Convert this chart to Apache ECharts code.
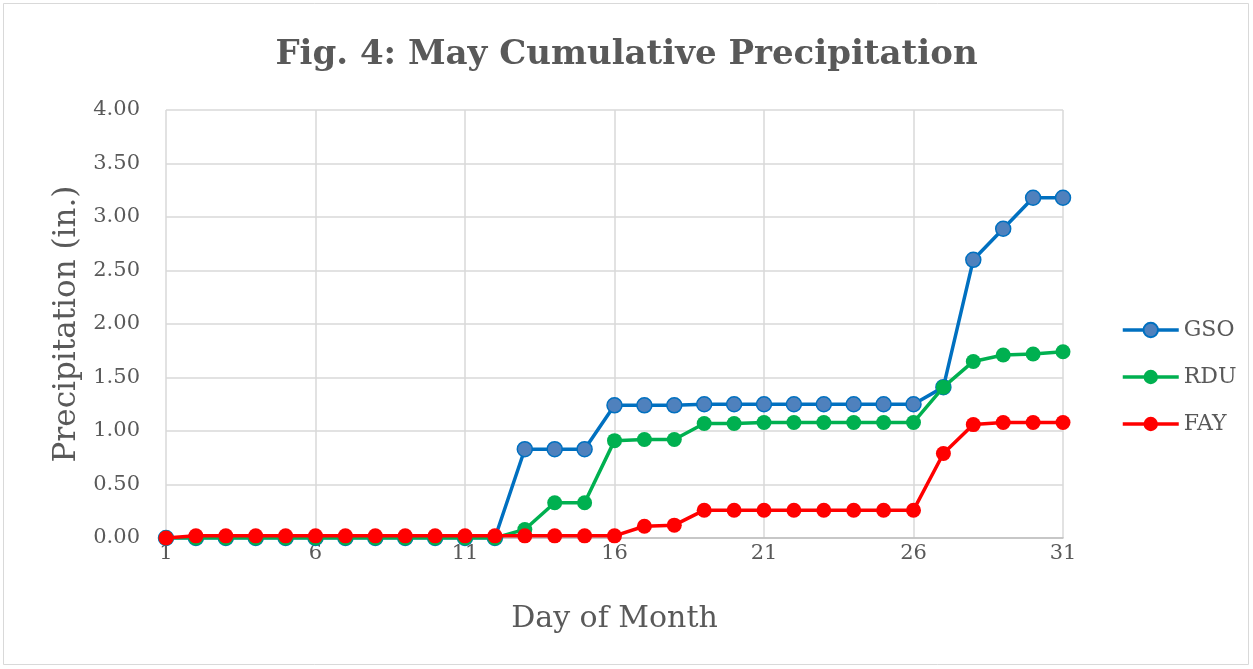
<!DOCTYPE html>
<html>
<head>
<meta charset="utf-8">
<script src="https://cdn.jsdelivr.net/npm/echarts@6/dist/echarts.min.js"></script>
<style>
html,body{margin:0;padding:0;background:#fff;}
#c{width:1253px;height:669px;}
</style>
</head>
<body>
<div id="c"></div>
<script>
var days = [];
for (var d = 1; d <= 31; d++) days.push(String(d));
var GSO = [0,0,0,0,0,0,0,0,0,0,0,0,0.83,0.83,0.83,1.24,1.24,1.24,1.25,1.25,1.25,1.25,1.25,1.25,1.25,1.25,1.41,2.60,2.89,3.18,3.18];
var RDU = [0,0,0,0,0,0,0,0,0,0,0,0,0.08,0.33,0.33,0.91,0.92,0.92,1.07,1.07,1.08,1.08,1.08,1.08,1.08,1.08,1.41,1.65,1.71,1.72,1.74];
var FAY = [0,0.02,0.02,0.02,0.02,0.02,0.02,0.02,0.02,0.02,0.02,0.02,0.02,0.02,0.02,0.02,0.11,0.12,0.26,0.26,0.26,0.26,0.26,0.26,0.26,0.26,0.79,1.06,1.08,1.08,1.08];
var seriesNames = ['GSO','RDU','FAY'];
var lineColors = ['#0070C0','#00B050','#FF0000'];
var markerFills = ['#4F81BD','#00B050','#FF0000'];
var titleText = 'Fig. 4: May Cumulative Precipitation';
var xName = 'Day of Month';
var yName = 'Precipitation (in.)';

var FONT = '"DejaVu Serif", serif';
var TXT = '#595959';
var chart = echarts.init(document.getElementById('c'), null, {renderer:'canvas'});
var dataSets = [GSO, RDU, FAY];
var series = dataSets.map(function(arr, i){
  return {
    name: seriesNames[i],
    type: 'line',
    data: arr,
    symbol: 'circle',
    symbolSize: 15,
    lineStyle: {color: lineColors[i], width: 3.5},
    itemStyle: {color: markerFills[i], borderColor: lineColors[i], borderWidth: i === 0 ? 1.5 : 0},
    z: 10 + i
  };
});
chart.setOption({
  animation: false,
  backgroundColor: '#fff',
  title: {
    text: titleText, left: 'center', top: 33,
    textStyle: {fontFamily: FONT, fontWeight: 'bold', fontSize: 34, color: TXT}
  },
  legend: {
    orient: 'vertical', left: 1116, top: 314, itemGap: 25,
    itemWidth: 56, itemHeight: 18,
    lineStyle: {width: 3.5},
    data: seriesNames,
    textStyle: {fontFamily: FONT, fontSize: 22, color: TXT}
  },
  grid: {left: 166, right: 190, top: 110, bottom: 131},
  xAxis: {
    type: 'category', data: days, boundaryGap: false,
    name: xName, nameLocation: 'middle', nameGap: 66,
    nameTextStyle: {fontFamily: FONT, fontSize: 30, color: TXT},
    axisLine: {lineStyle: {color: '#bfbfbf', width: 1.5}},
    axisTick: {show: false},
    axisLabel: {interval: 4, fontFamily: FONT, fontSize: 21, color: TXT, margin: 5},
    splitLine: {show: true, interval: 4, lineStyle: {color: '#d9d9d9', width: 1.5}}
  },
  yAxis: {
    type: 'value', min: 0, max: 4, interval: 0.5,
    name: yName, nameLocation: 'middle', nameGap: 84,
    nameTextStyle: {fontFamily: FONT, fontSize: 31, color: TXT},
    axisLine: {show: false}, axisTick: {show: false},
    axisLabel: {fontFamily: FONT, fontSize: 21, color: TXT, margin: 26,
      formatter: function(v){ return v.toFixed(2); }},
    splitLine: {lineStyle: {color: '#d9d9d9', width: 1.5}}
  },
  graphic: [{
    type: 'rect', shape: {x: 3.5, y: 3.5, width: 1245, height: 661},
    style: {fill: 'none', stroke: '#d9d9d9', lineWidth: 1}, silent: true, z: -1
  }],
  series: series
});
</script>
</body>
</html>
